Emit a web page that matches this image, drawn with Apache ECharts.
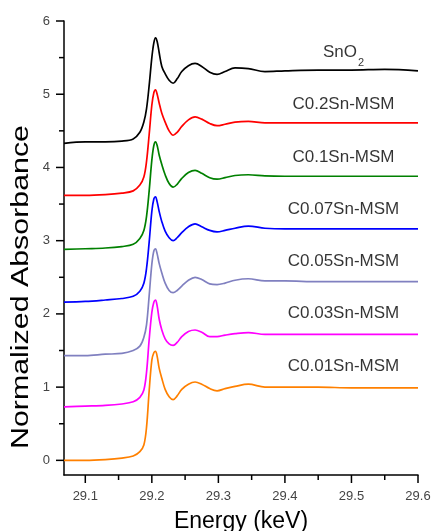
<!DOCTYPE html>
<html>
<head>
<meta charset="utf-8">
<script src="https://cdn.jsdelivr.net/npm/echarts@6/dist/echarts.min.js"></script>
<style>
html,body{margin:0;padding:0;background:#fff;}
#chart{width:434px;height:531px;}
</style>
</head>
<body>
<div id="chart"></div>
<script>
// Energy (keV) sample points shared by all spectra
const energy = [29.068, 29.10, 29.13, 29.155, 29.172, 29.182, 29.188, 29.192, 29.196, 29.2, 29.203, 29.2055, 29.208, 29.211, 29.215, 29.22, 29.226, 29.232, 29.238, 29.245, 29.255, 29.265, 29.275, 29.287, 29.298, 29.31, 29.325, 29.345, 29.37, 29.40, 29.45, 29.50, 29.55, 29.60];

const sno2   = [4.33, 4.35, 4.35, 4.36, 4.39, 4.48, 4.62, 4.80, 5.12, 5.50, 5.70, 5.77, 5.72, 5.57, 5.38, 5.28, 5.19, 5.15, 5.21, 5.31, 5.39, 5.42, 5.38, 5.30, 5.27, 5.31, 5.36, 5.35, 5.31, 5.32, 5.33, 5.33, 5.34, 5.32];
const c02    = [3.62, 3.62, 3.63, 3.65, 3.68, 3.76, 3.87, 4.08, 4.45, 4.85, 5.02, 5.06, 5.00, 4.88, 4.74, 4.62, 4.50, 4.44, 4.48, 4.56, 4.65, 4.69, 4.66, 4.60, 4.57, 4.59, 4.62, 4.63, 4.61, 4.61, 4.61, 4.61, 4.61, 4.61];
const c01    = [2.88, 2.89, 2.90, 2.92, 2.95, 3.03, 3.14, 3.33, 3.68, 4.10, 4.30, 4.35, 4.30, 4.17, 4.04, 3.90, 3.78, 3.73, 3.77, 3.85, 3.93, 3.96, 3.92, 3.86, 3.84, 3.86, 3.89, 3.90, 3.885, 3.88, 3.88, 3.88, 3.88, 3.88];
const c007   = [2.16, 2.17, 2.19, 2.21, 2.24, 2.31, 2.42, 2.62, 2.98, 3.40, 3.57, 3.60, 3.53, 3.40, 3.26, 3.13, 3.04, 3.00, 3.04, 3.11, 3.19, 3.23, 3.19, 3.14, 3.12, 3.14, 3.17, 3.20, 3.17, 3.16, 3.16, 3.16, 3.16, 3.16];
const c005   = [1.43, 1.43, 1.45, 1.46, 1.50, 1.56, 1.68, 1.85, 2.25, 2.68, 2.86, 2.89, 2.82, 2.69, 2.56, 2.42, 2.32, 2.29, 2.32, 2.38, 2.46, 2.50, 2.47, 2.41, 2.40, 2.42, 2.46, 2.48, 2.45, 2.45, 2.44, 2.44, 2.44, 2.44];
const c003   = [0.73, 0.74, 0.75, 0.77, 0.80, 0.86, 0.96, 1.20, 1.65, 2.02, 2.16, 2.19, 2.11, 1.93, 1.78, 1.66, 1.59, 1.57, 1.61, 1.69, 1.76, 1.78, 1.75, 1.69, 1.69, 1.71, 1.73, 1.745, 1.72, 1.72, 1.72, 1.72, 1.72, 1.72];
const c001   = [0.00, 0.00, 0.01, 0.03, 0.06, 0.12, 0.21, 0.45, 0.95, 1.37, 1.47, 1.49, 1.42, 1.26, 1.12, 0.97, 0.87, 0.83, 0.88, 0.97, 1.04, 1.07, 1.04, 0.98, 0.95, 0.98, 1.01, 1.04, 1.00, 1.00, 1.00, 0.99, 0.99, 0.99];

const seriesNames = ['SnO2', 'C0.2Sn-MSM', 'C0.1Sn-MSM', 'C0.07Sn-MSM', 'C0.05Sn-MSM', 'C0.03Sn-MSM', 'C0.01Sn-MSM'];
const seriesData = [sno2, c02, c01, c007, c005, c003, c001];

const xTicks = [29.1, 29.2, 29.3, 29.4, 29.5, 29.6];
const xMinorTicks = [29.15, 29.25, 29.35, 29.45, 29.55];
const yTicks = [0, 1, 2, 3, 4, 5, 6];
const yMinorTicks = [0.5, 1.5, 2.5, 3.5, 4.5, 5.5];

// layout / style constants
const colors = ['#000000', '#ff0000', '#008000', '#0000ff', '#8080c0', '#ff00ff', '#ff8000'];
const labelX = 29.488;
const labelY = [5.578, 4.859, 4.143, 3.425, 2.723, 2.004, 1.288];
const xMin = 29.068, xMax = 29.6, yMin = -0.2, yMax = 6;
const FONT = 'Liberation Sans, Arial, sans-serif';

const chart = echarts.init(document.getElementById('chart'), null, {renderer: 'canvas'});

const series = seriesNames.map((name, i) => ({
  name: name,
  type: 'line',
  data: energy.map((e, k) => [e, seriesData[i][k]]),
  showSymbol: false,
  smooth: 0.35,
  lineStyle: {color: colors[i], width: 1.7},
  itemStyle: {color: colors[i]},
  z: 3
}));

series.push({
  type: 'scatter',
  symbolSize: 0,
  silent: true,
  data: seriesNames.map((n, i) => ({value: [labelX, labelY[i]], name: n})),
  label: {
    show: true,
    position: 'inside',
    align: 'center',
    verticalAlign: 'middle',
    fontFamily: FONT,
    fontSize: 17,
    color: '#000',
    formatter: p => p.name === 'SnO2' ? '{a|SnO}{b|2}' : p.name,
    rich: {
      a: {fontSize: 17, color: '#000', fontFamily: FONT, lineHeight: 22, verticalAlign: 'middle'},
      b: {fontSize: 11, color: '#000', fontFamily: FONT, lineHeight: 22, verticalAlign: 'bottom', padding: [0, 0, -6, 1]}
    }
  },
  z: 5
});

const yNameGraphic = {
  type: 'text',
  x: 22,
  y: 287,
  rotation: Math.PI / 2,
  scaleX: 1.32,
  style: {
    text: 'Normalized Absorbance',
    fontSize: 23,
    fontFamily: FONT,
    fill: '#000',
    align: 'center',
    verticalAlign: 'middle'
  }
};

chart.setOption({
  animation: false,
  backgroundColor: '#fff',
  textStyle: {fontFamily: FONT},
  grid: {left: 64, right: 16, top: 21, bottom: 56, containLabel: false, outerBoundsMode: 'none'},
  xAxis: {
    type: 'value',
    min: xMin,
    max: xMax,
    position: 'bottom',
    name: 'Energy (keV)',
    nameLocation: 'middle',
    nameGap: 35,
    nameTextStyle: {fontSize: 23, color: '#000', fontFamily: FONT},
    axisLine: {show: true, onZero: false, lineStyle: {color: '#000', width: 1.5}},
    axisTick: {show: false},
    axisLabel: {show: true, customValues: xTicks, formatter: v => v.toFixed(1), fontSize: 13, color: '#444', margin: 15},
    splitLine: {show: false}
  },
  yAxis: {
    type: 'value',
    min: yMin,
    max: yMax,
    position: 'left',
    axisLine: {show: true, onZero: false, lineStyle: {color: '#000', width: 1.5}},
    axisTick: {show: false},
    axisLabel: {show: true, customValues: yTicks, formatter: v => String(Math.round(v)), fontSize: 13, color: '#444', margin: 14},
    splitLine: {show: false}
  },
  graphic: [yNameGraphic],
  series: series
});

// Axis ticks (major + minor) placed through the axes' own scales
function tickLines() {
  const out = [yNameGraphic];
  const yBase = chart.convertToPixel({yAxisIndex: 0}, yMin);
  const xBase = chart.convertToPixel({xAxisIndex: 0}, xMin);
  const st = {stroke: '#000', lineWidth: 1.5};
  xTicks.forEach(v => {
    const p = chart.convertToPixel({xAxisIndex: 0}, v);
    out.push({type: 'line', silent: true, shape: {x1: p, y1: yBase, x2: p, y2: yBase + 8}, style: st});
  });
  xMinorTicks.forEach(v => {
    const p = chart.convertToPixel({xAxisIndex: 0}, v);
    out.push({type: 'line', silent: true, shape: {x1: p, y1: yBase, x2: p, y2: yBase + 5}, style: st});
  });
  yTicks.forEach(v => {
    const p = chart.convertToPixel({yAxisIndex: 0}, v);
    out.push({type: 'line', silent: true, shape: {x1: xBase - 8, y1: p, x2: xBase, y2: p}, style: st});
  });
  yMinorTicks.forEach(v => {
    const p = chart.convertToPixel({yAxisIndex: 0}, v);
    out.push({type: 'line', silent: true, shape: {x1: xBase - 5, y1: p, x2: xBase, y2: p}, style: st});
  });
  return out;
}
chart.setOption({graphic: tickLines()});
</script>
</body>
</html>
